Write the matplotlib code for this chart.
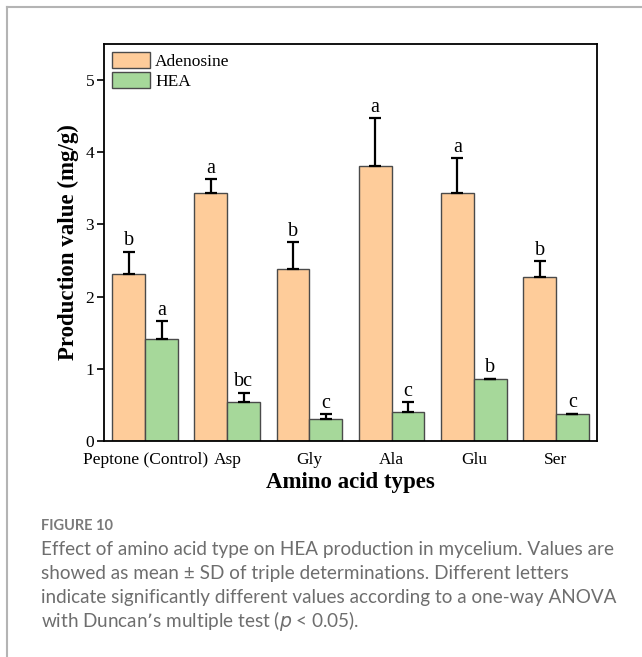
import matplotlib
matplotlib.use("Agg")
import matplotlib.pyplot as plt
from matplotlib.lines import Line2D
import numpy as np

# data
categories = ["Peptone (Control)", "Asp", "Gly", "Ala", "Glu", "Ser"]
adenosine = [2.32, 3.44, 2.38, 3.81, 3.43, 2.27]
adenosine_sd = [0.30, 0.19, 0.37, 0.66, 0.49, 0.22]
adenosine_letters = ["b", "a", "b", "a", "a", "b"]
hea = [1.41, 0.54, 0.30, 0.40, 0.855, 0.37]
hea_sd = [0.25, 0.13, 0.07, 0.14, 0.01, 0.01]
hea_letters = ["a", "bc", "c", "c", "b", "c"]

caption_title = "FIGURE 10"
caption_lines = [
    "Effect of amino acid type on HEA production in mycelium. Values are",
    "showed as mean \u00b1 SD of triple determinations. Different letters",
    "indicate significantly different values according to a one-way ANOVA",
    "with Duncan\u2019s multiple test ($\\it{p}$ < 0.05).",
]

serif = "Liberation Serif"
c_ad = "#FECC9A"
c_hea = "#A6D89A"

fig = plt.figure(figsize=(6.42, 6.57), dpi=100)
ax = fig.add_axes([0.162, 0.3288, 0.768, 0.6042])

x = np.arange(len(categories))
w = 0.4
ax.bar(x - w / 2, adenosine, w, color=c_ad, edgecolor="#4a4a4a", linewidth=1.0,
       label="Adenosine", zorder=2)
ax.bar(x + w / 2, hea, w, color=c_hea, edgecolor="#4a4a4a", linewidth=1.0,
       label="HEA", zorder=2)

# upper error bars only
err_kw = dict(fmt="none", ecolor="black", elinewidth=1.6, capsize=4, capthick=1.6, zorder=3)
ax.errorbar(x - w / 2, adenosine, yerr=[np.zeros(len(x)), adenosine_sd], **err_kw)
ax.errorbar(x + w / 2, hea, yerr=[np.zeros(len(x)), hea_sd], **err_kw)

for i in range(len(x)):
    ax.text(x[i] - w / 2, adenosine[i] + adenosine_sd[i] + 0.02, adenosine_letters[i],
            ha="center", va="bottom", fontsize=14.5, family=serif)
    ax.text(x[i] + w / 2, hea[i] + hea_sd[i] + 0.02, hea_letters[i],
            ha="center", va="bottom", fontsize=14.5, family=serif)

ax.set_xlim(-0.5, 5.5)
ax.set_ylim(0, 5.5)
ax.set_yticks([0, 1, 2, 3, 4, 5])
ax.set_xticks(x)
ax.set_xticklabels(categories, family=serif, fontsize=12.5)
for t in ax.get_yticklabels():
    t.set_family(serif)
    t.set_fontsize(12.5)
ax.tick_params(axis="y", direction="out", length=5, width=1.2, pad=2)
ax.tick_params(axis="x", length=0, pad=8)
for s in ax.spines.values():
    s.set_linewidth(1.3)
    s.set_color("black")

ax.set_ylabel("Production value (mg/g)", family=serif, fontweight="bold",
              fontsize=16.5, labelpad=5)
ax.set_xlabel("Amino acid types", family=serif, fontweight="bold",
              fontsize=16.5, labelpad=3)

leg = ax.legend(loc="upper left", frameon=False, prop={"family": serif, "size": 12.5},
                handlelength=2.2, handleheight=1.05, labelspacing=0.1,
                handletextpad=0.3, borderaxespad=0.25, borderpad=0.2)

# card border of the page
fig.add_artist(Line2D([7 / 642, 7 / 642], [0, 1 - 7 / 657], color="#b4b4b4",
                      linewidth=1.5, transform=fig.transFigure))
fig.add_artist(Line2D([7 / 642, 1], [1 - 7 / 657, 1 - 7 / 657], color="#b4b4b4",
                      linewidth=1.5, transform=fig.transFigure))

# caption
fig.text(41 / 642, 1 - 526 / 657, caption_title, family="Lato", fontweight="bold",
         fontsize=10.5, color="#7a7a7a", va="center", ha="left")
for k, line in enumerate(caption_lines):
    fig.text(41 / 642, 1 - (549 + 24 * k) / 657, line, family="Lato",
             fontsize=13.6, color="#6e6e6e", va="center", ha="left")

fig.savefig("out.png", dpi=100)
